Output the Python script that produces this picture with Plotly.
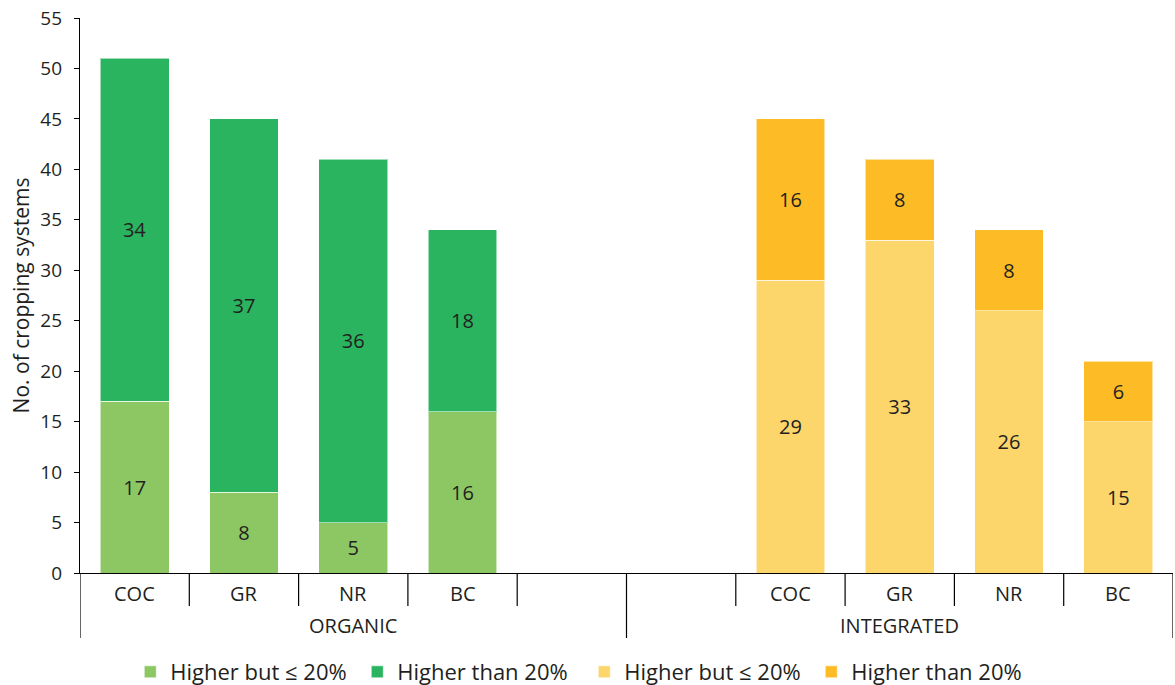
import plotly.graph_objects as go

# ---- data ----
groups = ["ORGANIC", "INTEGRATED"]
subcats = ["COC", "GR", "NR", "BC"]
organic_low = [17, 8, 5, 16]      # Higher but <= 20%
organic_high = [34, 37, 36, 18]   # Higher than 20%
integrated_low = [29, 33, 26, 15]
integrated_high = [16, 8, 8, 6]
legend_labels = ["Higher but \u2264 20%", "Higher than 20%"]
y_ticks = list(range(0, 56, 5))

# slot layout: organic 0..3 (4 empty), integrated 6..9 (5 empty)
org_x = [0, 1, 2, 3]
int_x = [6, 7, 8, 9]
n_slots = 10

C_LGREEN = "#8CC764"
C_DGREEN = "#2BB45F"
C_LYELLOW = "#FCD56B"
C_ORANGE = "#FDBC25"
TXT = "#231F20"
FONT = "Open Sans"

fig = go.Figure()

def add(xs, ys, color, name):
    fig.add_trace(go.Bar(
        x=xs, y=ys, name=name,
        marker=dict(color=color, line=dict(color="rgba(255,255,255,0.55)", width=1)),
        text=[str(v) for v in ys], textposition="inside", insidetextanchor="middle",
        textfont=dict(family=FONT, size=20, color=TXT),
        hoverinfo="skip",
    ))

add(org_x, organic_low, C_LGREEN, legend_labels[0])
add(org_x, organic_high, C_DGREEN, legend_labels[1])
add(int_x, integrated_low, C_LYELLOW, legend_labels[0])
add(int_x, integrated_high, C_ORANGE, legend_labels[1])

shapes = []
annotations = []
plot_h = 555.0
sub_len = 33 / plot_h
grp_len = 65 / plot_h
for b in range(n_slots + 1):
    is_group = b in (0, 5, 10)
    shapes.append(dict(type="line", xref="x", yref="paper",
                       x0=b - 0.5, x1=b - 0.5, y0=0, y1=-(grp_len if is_group else sub_len),
                       line=dict(color="black", width=1.2)))
for xs in (org_x, int_x):
    for x, lab in zip(xs, subcats):
        annotations.append(dict(x=x, xref="x", y=-20 / plot_h, yref="paper",
                                text=lab, showarrow=False, yanchor="middle",
                                font=dict(family=FONT, size=20, color=TXT)))
for gi, g in enumerate(groups):
    annotations.append(dict(x=gi * 5 + 2, xref="x", y=-52 / plot_h, yref="paper",
                            text=g, showarrow=False, yanchor="middle",
                            font=dict(family=FONT, size=20, color=TXT)))

fig.update_layout(
    barmode="stack",
    bargap=0.37,
    width=1175, height=685,
    margin=dict(l=80, r=2, t=18, b=112, autoexpand=False),
    paper_bgcolor="white", plot_bgcolor="white",
    font=dict(family=FONT, size=16, color=TXT),
    showlegend=True,
    legend=dict(orientation="h", x=0.046, xanchor="left", y=-99 / plot_h, yanchor="middle",
                font=dict(family=FONT, size=22, color=TXT),
                itemwidth=30, entrywidth=182, entrywidthmode="pixels",
                traceorder="normal", itemclick=False),
    shapes=shapes,
    annotations=annotations,
)
fig.update_xaxes(range=[-0.5, n_slots - 0.5], showticklabels=False, ticks="",
                 showline=True, linecolor="black", linewidth=1.2, showgrid=False,
                 zeroline=False, automargin=False)
fig.update_yaxes(range=[0, 55], tickvals=y_ticks, ticks="outside", ticklen=5,
                 tickcolor="black", showline=True, linecolor="black", linewidth=1.2,
                 showgrid=False, zeroline=False, automargin=False,
                 ticklabelstandoff=8,
                 tickfont=dict(family=FONT, size=19, color=TXT),
                 title=dict(text="No. of cropping systems", font=dict(family=FONT, size=21, color=TXT),
                            standoff=5))

fig.write_html("out.html", config={"displayModeBar": False},
               post_script="document.body.style.margin='0';document.body.style.overflow='hidden';")
